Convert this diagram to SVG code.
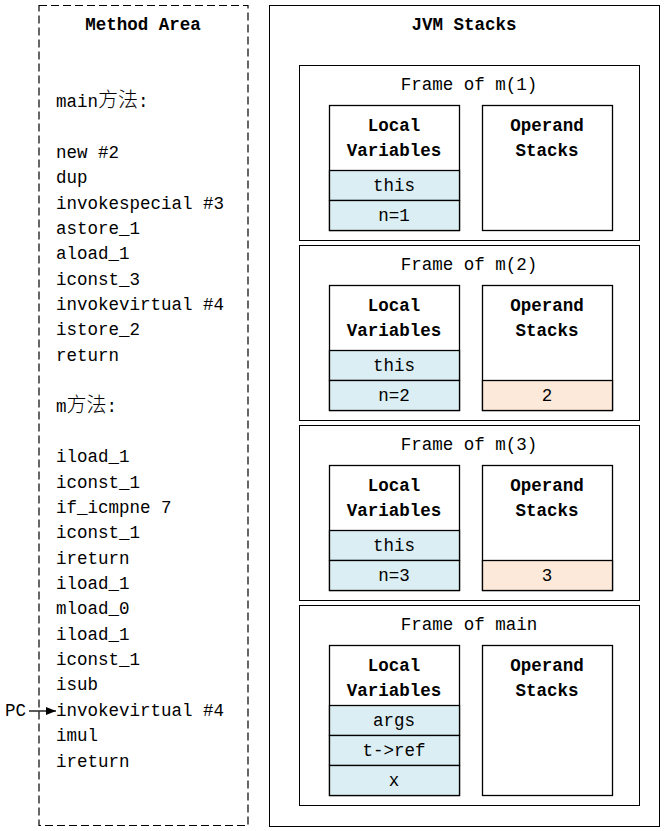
<svg xmlns="http://www.w3.org/2000/svg" width="666" height="831" viewBox="0 0 666 831">
<style>
text{font-family:"Liberation Mono","Noto Sans CJK SC",monospace;font-size:17.5px;fill:#000}
.cjk{font-family:"Noto Sans CJK SC",sans-serif;font-size:20px;font-weight:300}
.c{text-anchor:middle}
.b{font-weight:bold}
.box{fill:#fff;stroke:#000;stroke-width:1}
.inner{fill:#fff;stroke:#000;stroke-width:1.3}
.blue{fill:#daeef3;stroke:#000;stroke-width:1.3}
.org{fill:#fde9d9;stroke:#000;stroke-width:1.3}
</style>
<defs>
<marker id="ah" viewBox="0 0 10 10" refX="10" refY="5" markerWidth="10" markerHeight="10" markerUnits="userSpaceOnUse" orient="auto">
<path d="M0,1 L10,5 L0,9 z" fill="#000"/>
</marker>
</defs>
<rect width="666" height="831" fill="#fff"/>

<g id="method-area">
<rect x="39" y="5.5" width="209" height="820" fill="none" stroke="#000" stroke-width="1.2" stroke-dasharray="8 4"/>
<text class="c b" x="143" y="30">Method Area</text>
<text x="56" y="107">main<tspan class="cjk">方法</tspan>:</text>
<text x="56" y="158">new #2</text>
<text x="56" y="183">dup</text>
<text x="56" y="208.5">invokespecial #3</text>
<text x="56" y="234">astore_1</text>
<text x="56" y="259">aload_1</text>
<text x="56" y="284.5">iconst_3</text>
<text x="56" y="310">invokevirtual #4</text>
<text x="56" y="335">istore_2</text>
<text x="56" y="360.5">return</text>
<text x="56" y="411.5">m<tspan class="cjk">方法</tspan>:</text>
<text x="56" y="462">iload_1</text>
<text x="56" y="487.5">iconst_1</text>
<text x="56" y="513">if_icmpne 7</text>
<text x="56" y="538">iconst_1</text>
<text x="56" y="563.5">ireturn</text>
<text x="56" y="589">iload_1</text>
<text x="56" y="614">mload_0</text>
<text x="56" y="639.5">iload_1</text>
<text x="56" y="665">iconst_1</text>
<text x="56" y="690">isub</text>
<text x="56" y="716">invokevirtual #4</text>
<text x="56" y="741">imul</text>
<text x="56" y="766.5">ireturn</text>
</g>

<g id="pc">
<text x="5" y="716">PC</text>
</g>

<g id="jvm-stacks">
<rect class="box" x="269.5" y="5.5" width="390" height="821"/>
<text class="c b" x="464" y="30">JVM Stacks</text>
</g>

<g id="frame-m1">
<rect class="box" x="299.5" y="65.5" width="340" height="175"/>
<text class="c" x="469" y="90">Frame of m(1)</text>
<rect class="inner" x="329.5" y="105.5" width="130" height="125"/>
<text class="c b" x="394" y="130.5">Local</text>
<text class="c b" x="394" y="156">Variables</text>
<rect class="blue" x="329.5" y="170.5" width="130" height="30"/>
<text class="c" x="394" y="190.5">this</text>
<rect class="blue" x="329.5" y="200.5" width="130" height="30"/>
<text class="c" x="394" y="220.5">n=1</text>
<rect class="inner" x="482.5" y="105.5" width="130" height="125"/>
<text class="c b" x="547" y="130.5">Operand</text>
<text class="c b" x="547" y="156">Stacks</text>
</g>

<g id="frame-m2">
<rect class="box" x="299.5" y="245.5" width="340" height="175"/>
<text class="c" x="469" y="270">Frame of m(2)</text>
<rect class="inner" x="329.5" y="285.5" width="130" height="125"/>
<text class="c b" x="394" y="310.5">Local</text>
<text class="c b" x="394" y="336">Variables</text>
<rect class="blue" x="329.5" y="350.5" width="130" height="30"/>
<text class="c" x="394" y="370.5">this</text>
<rect class="blue" x="329.5" y="380.5" width="130" height="30"/>
<text class="c" x="394" y="400.5">n=2</text>
<rect class="inner" x="482.5" y="285.5" width="130" height="125"/>
<text class="c b" x="547" y="310.5">Operand</text>
<text class="c b" x="547" y="336">Stacks</text>
<rect class="org" x="482.5" y="380.5" width="130" height="30"/>
<text class="c" x="547" y="400.5">2</text>
</g>

<g id="frame-m3">
<rect class="box" x="299.5" y="425.5" width="340" height="175"/>
<text class="c" x="469" y="450">Frame of m(3)</text>
<rect class="inner" x="329.5" y="465.5" width="130" height="125"/>
<text class="c b" x="394" y="490.5">Local</text>
<text class="c b" x="394" y="516">Variables</text>
<rect class="blue" x="329.5" y="530.5" width="130" height="30"/>
<text class="c" x="394" y="550.5">this</text>
<rect class="blue" x="329.5" y="560.5" width="130" height="30"/>
<text class="c" x="394" y="580.5">n=3</text>
<rect class="inner" x="482.5" y="465.5" width="130" height="125"/>
<text class="c b" x="547" y="490.5">Operand</text>
<text class="c b" x="547" y="516">Stacks</text>
<rect class="org" x="482.5" y="560.5" width="130" height="30"/>
<text class="c" x="547" y="580.5">3</text>
</g>

<g id="frame-main">
<rect class="box" x="299.5" y="605.5" width="340" height="200"/>
<text class="c" x="469" y="630">Frame of main</text>
<rect class="inner" x="329.5" y="645.5" width="130" height="150"/>
<text class="c b" x="394" y="670.5">Local</text>
<text class="c b" x="394" y="696">Variables</text>
<rect class="blue" x="329.5" y="705.5" width="130" height="30"/>
<text class="c" x="394" y="725.5">args</text>
<rect class="blue" x="329.5" y="735.5" width="130" height="30"/>
<text class="c" x="394" y="755.5">t-&gt;ref</text>
<rect class="blue" x="329.5" y="765.5" width="130" height="30"/>
<text class="c" x="394" y="785.5">x</text>
<rect class="inner" x="482.5" y="645.5" width="130" height="150"/>
<text class="c b" x="547" y="670.5">Operand</text>
<text class="c b" x="547" y="696">Stacks</text>
</g>

<g id="connectors">
<line x1="29" y1="711" x2="56" y2="711" stroke="#000" stroke-width="1.3" marker-end="url(#ah)"/>
</g>
</svg>
